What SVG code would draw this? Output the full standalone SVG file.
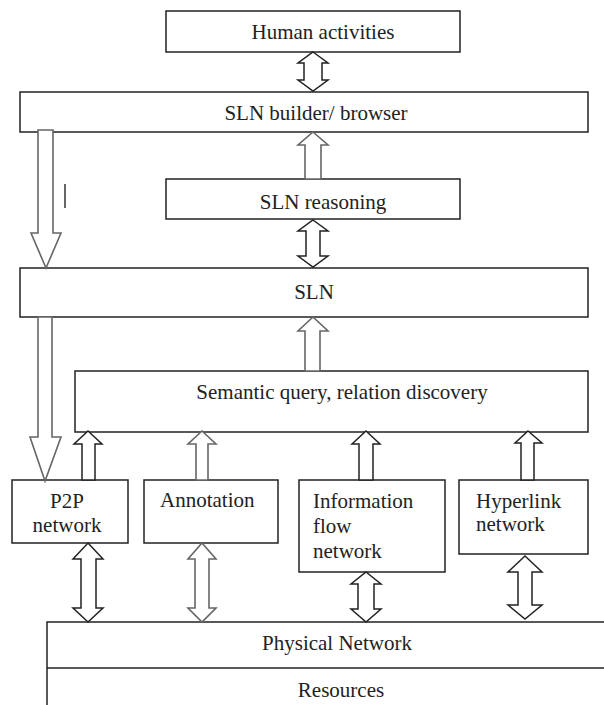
<svg xmlns="http://www.w3.org/2000/svg" width="604" height="705" viewBox="0 0 604 705">
<style>
.box{fill:#fff;stroke:#222;stroke-width:1.5}
.t{font-family:'Liberation Serif','Times New Roman',Tinos,'DejaVu Serif',serif;font-size:21px;fill:#222}
.m{text-anchor:middle}
.ab{fill:#fff;stroke:#222;stroke-width:1.5;stroke-linejoin:miter}
.ag{fill:#fff;stroke:#666;stroke-width:1.6;stroke-linejoin:miter}
</style>
<rect width="604" height="705" fill="#fff"/>
<g id="human"><rect class="box" x="166" y="11" width="294" height="41"/><text class="t m" x="323" y="39">Human activities</text></g>
<g id="builder"><rect class="box" x="20" y="92" width="568" height="40"/><text class="t m" x="316" y="120">SLN builder/ browser</text></g>
<g id="reasoning"><rect class="box" x="166" y="179" width="294" height="40"/><text class="t m" x="323" y="209">SLN reasoning</text></g>
<g id="sln"><rect class="box" x="20" y="268" width="568" height="49"/><text class="t m" x="314" y="299">SLN</text></g>
<g id="semantic"><rect class="box" x="75" y="371" width="513" height="61"/><text class="t m" x="342" y="399">Semantic query, relation discovery</text></g>
<g id="p2p"><rect class="box" x="12" y="480" width="116" height="63"/><text class="t m" x="67" y="508">P2P</text><text class="t m" x="67" y="532">network</text></g>
<g id="annotation"><rect class="box" x="144" y="480" width="134" height="63"/><text class="t" x="160" y="507">Annotation</text></g>
<g id="infoflow"><rect class="box" x="299" y="480" width="146" height="92"/><text class="t" x="313" y="508">Information</text><text class="t" x="313" y="533">flow</text><text class="t" x="313" y="558">network</text></g>
<g id="hyperlink"><rect class="box" x="459" y="480" width="129" height="74"/><text class="t" x="476" y="508">Hyperlink</text><text class="t" x="476" y="531">network</text></g>
<g id="physical"><rect class="box" x="47" y="622" width="600" height="100"/><line x1="47" y1="668" x2="604" y2="668" stroke="#222" stroke-width="1.5"/><text class="t m" x="337" y="650">Physical Network</text><text class="t m" x="341" y="697">Resources</text></g>
<g id="connectors">
<path class="ab" d="M313,52 L328,63 L322,63 L322,80 L328,80 L313,91 L298,80 L304,80 L304,63 L298,63 Z"/>
<path class="ag" d="M313,132 L328,145 L321,145 L321,179 L305,179 L305,145 L298,145 Z"/>
<path class="ab" d="M313,220 L328,231 L320,231 L320,256 L328,256 L313,267 L298,256 L306,256 L306,231 L298,231 Z"/>
<path class="ag" d="M313,317 L328,331 L320,331 L320,371 L305,371 L305,331 L298,331 Z"/>
<path class="ag" d="M38,130 L53,130 L53,233 L61,233 L46,268 L31,233 L38,233 Z"/>
<line x1="65" y1="184" x2="65" y2="208" stroke="#333" stroke-width="1.5"/>
<path class="ag" d="M38,317 L52,317 L52,437 L61,437 L45,481 L30,437 L38,437 Z"/>
<path class="ab" d="M88,431 L102,444 L95,444 L95,480 L82,480 L82,444 L74,444 Z"/>
<path class="ag" d="M202,431 L216,444 L208,444 L208,480 L196,480 L196,444 L188,444 Z"/>
<path class="ab" d="M366,431 L380,444 L373,444 L373,480 L359,480 L359,444 L352,444 Z"/>
<path class="ab" d="M528,431 L542,443 L534,443 L534,480 L521,480 L521,443 L515,443 Z"/>
<path class="ab" d="M88,543 L103,559 L96,559 L96,608 L103,608 L88,622 L73,608 L81,608 L81,559 L73,559 Z"/>
<path class="ag" d="M202,543 L216,559 L209,559 L209,608 L216,608 L202,622 L188,608 L195,608 L195,559 L188,559 Z"/>
<path class="ab" d="M366,572 L381,584 L374,584 L374,609 L381,609 L366,622 L351,609 L358,609 L358,584 L351,584 Z"/>
<path class="ab" d="M525,556 L542,572 L532,572 L532,605 L542,605 L525,619 L508,605 L518,605 L518,572 L508,572 Z"/>
</g>
</svg>
